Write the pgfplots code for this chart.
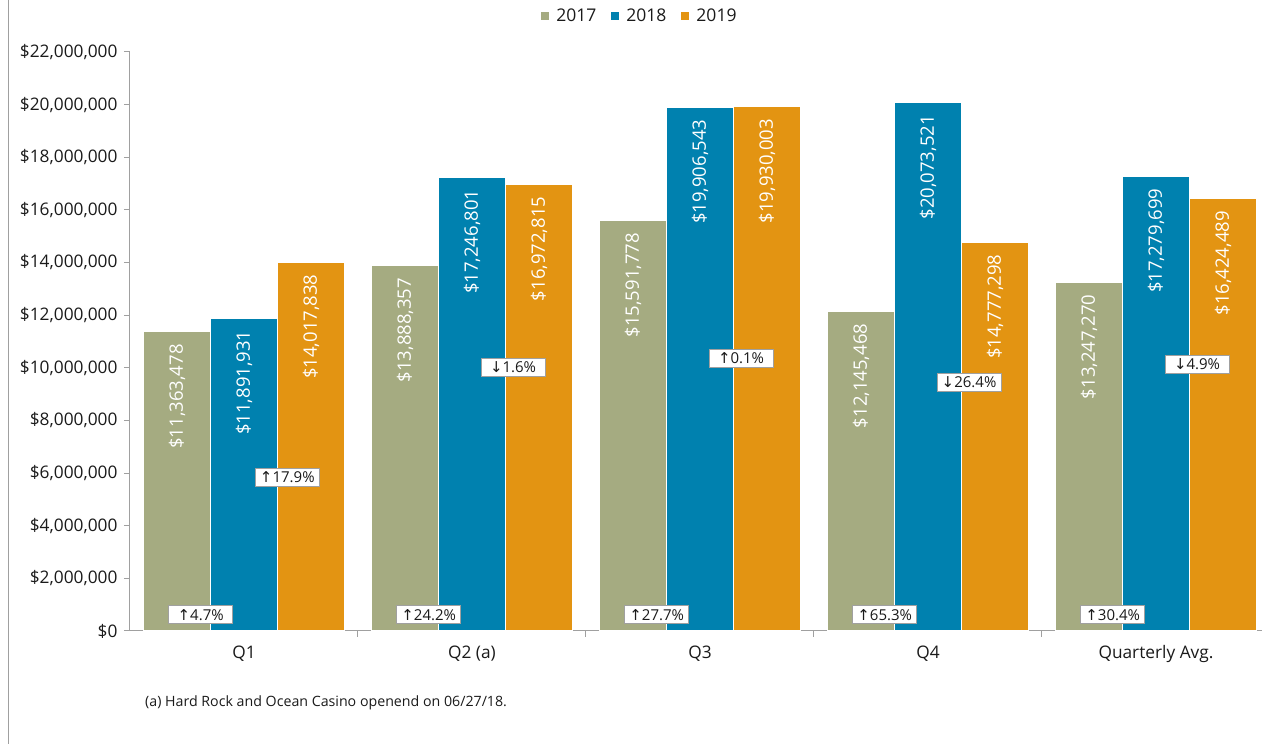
\documentclass[border=0pt]{standalone}
\usepackage{pgfplots}
\pgfplotsset{compat=1.18}
\usepackage{pgfplotstable}
\usepackage{fontspec}
\setmainfont{Open Sans}
\newfontfamily\arr{DejaVu Sans}
\definecolor{c17}{RGB}{165,171,129}
\definecolor{c18}{RGB}{0,129,175}
\definecolor{c19}{RGB}{227,148,18}
\definecolor{axgray}{RGB}{160,160,160}
\definecolor{txt}{RGB}{26,26,26}

\pgfplotstableread{
x a la b lb c lc
0 11.363478 11,363,478 11.891931 11,891,931 14.017838 14,017,838
1 13.888357 13,888,357 17.246801 17,246,801 16.972815 16,972,815
2 15.591778 15,591,778 19.906543 19,906,543 19.930003 19,930,003
3 12.145468 12,145,468 20.073521 20,073,521 14.777298 14,777,298
4 13.247270 13,247,270 17.279699 17,279,699 16.424489 16,424,489
}\data

\begin{document}
\begin{tikzpicture}[x=1pt,y=1pt]
\path[use as bounding box] (0pt,0pt) rectangle (1262pt,744pt);
\draw[axgray,line width=1pt] (8pt,0pt) -- (8pt,744pt);
\begin{axis}[
  at={(130pt,113pt)}, anchor=south west, scale only axis,
  width=1132pt, height=579pt,
  xmin=-0.5, xmax=4.465, ymin=0, ymax=22,
  axis x line*=bottom, axis y line*=left,
  axis line style={axgray, line width=1pt},
  tick align=outside,
  tick style={axgray, line width=1pt},
  major tick length=6pt,
  ybar=0pt, bar width=67pt,
  xtick={0.5,1.5,2.5,3.5},
  xticklabels={},
  extra x ticks={0,1,2,3,4},
  extra x tick labels={Q1,Q2 (a),Q3,Q4,Quarterly Avg.},
  extra x tick style={tick style={draw=none}, major tick length=0pt,
     xticklabel style={yshift=-11pt}},
  ytick={0,2,...,22},
  yticklabels={{\$0},{\$2,000,000},{\$4,000,000},{\$6,000,000},{\$8,000,000},{\$10,000,000},{\$12,000,000},{\$14,000,000},{\$16,000,000},{\$18,000,000},{\$20,000,000},{\$22,000,000}},
  ticklabel style={font=\fontsize{17.3}{20}\selectfont, text=txt},
  yticklabel style={xshift=-3pt},
  point meta=explicit symbolic,
  nodes near coords={\$\pgfplotspointmeta},
  every node near coord/.append style={rotate=90, anchor=east, inner xsep=12pt, inner ysep=0pt, text=white, font=\fontsize{18.5}{21}\selectfont},
  legend columns=3,
  legend style={at={(axis description cs:0.4505,1.062)}, anchor=center, draw=none, fill=none,
    font=\fontsize{17.5}{20}\selectfont, text=txt,
    /tikz/every odd column/.append style={column sep=5pt},
    /tikz/every even column/.append style={column sep=13pt}},
  sq/.style={legend image code/.code={\fill[##1,draw=none] (0pt,-4pt) rectangle (8pt,4pt);}},
  clip=false,
]
\addplot[fill=c17, draw=white, line width=1pt, sq] table[x=x, y=a, meta=la] {\data};
\addplot[fill=c18, draw=white, line width=1pt, sq] table[x=x, y=b, meta=lb] {\data};
\addplot[fill=c19, draw=white, line width=1pt, sq] table[x=x, y=c, meta=lc] {\data};
\legend{2017,2018,2019}

\tikzset{bx/.style={draw=axgray, fill=white, line width=1pt, text=txt, font=\fontsize{15}{18}\selectfont, minimum width=64pt, minimum height=18pt, inner sep=1pt}}
\node[bx] at (axis cs:-0.19,0.608) {{\arr ↑}4.7\%};
\node[bx] at (axis cs:0.81,0.608) {{\arr ↑}24.2\%};
\node[bx] at (axis cs:1.81,0.608) {{\arr ↑}27.7\%};
\node[bx] at (axis cs:2.81,0.608) {{\arr ↑}65.3\%};
\node[bx] at (axis cs:3.81,0.608) {{\arr ↑}30.4\%};
\node[bx] at (axis cs:0.19,5.83) {{\arr ↑}17.9\%};
\node[bx] at (axis cs:1.18,10.03) {{\arr ↓}1.6\%};
\node[bx] at (axis cs:2.18,10.37) {{\arr ↑}0.1\%};
\node[bx] at (axis cs:3.18,9.46) {{\arr ↓}26.4\%};
\node[bx] at (axis cs:4.18,10.14) {{\arr ↓}4.9\%};
\end{axis}
\node[anchor=west, inner sep=0pt, text=txt, font=\fontsize{14.2}{17}\selectfont] at (145pt,41pt) {(a) Hard Rock and Ocean Casino openend on 06/27/18.};
\end{tikzpicture}
\end{document}
